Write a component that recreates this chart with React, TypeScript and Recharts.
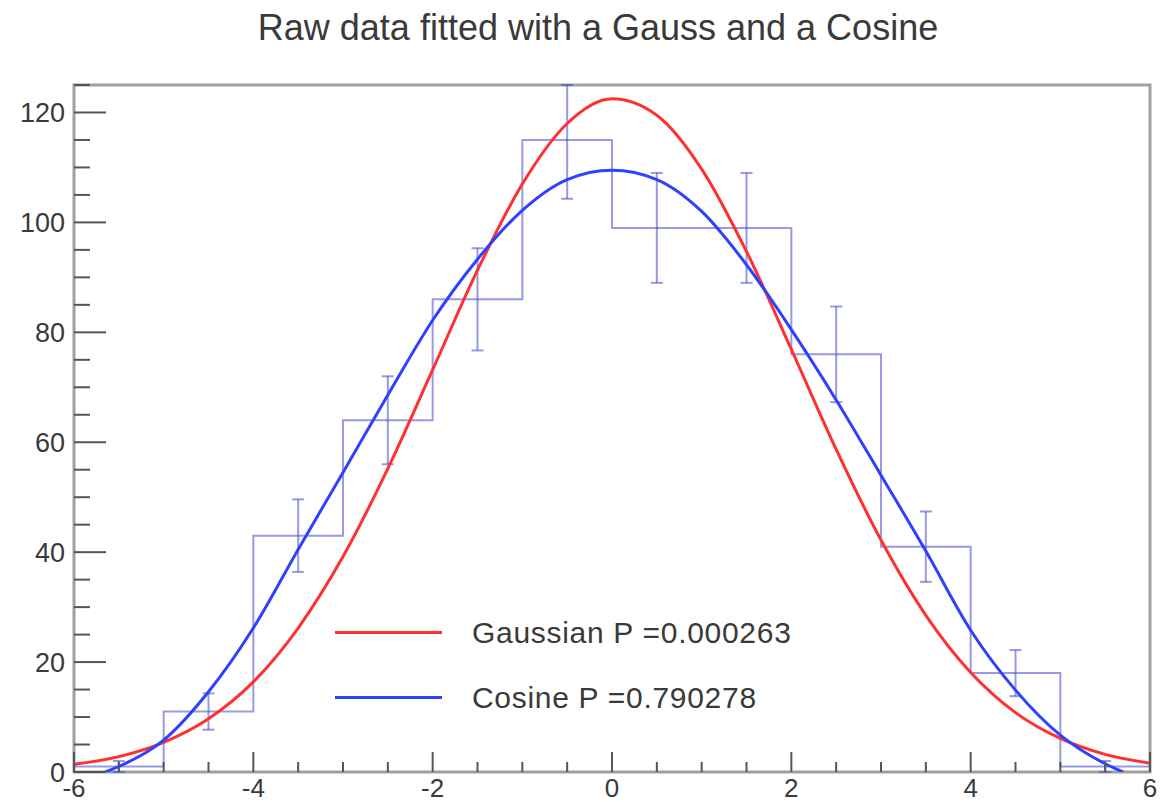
import {
  ComposedChart,
  ErrorBar,
  Legend,
  Line,
  ReferenceArea,
  Scatter,
  XAxis,
  YAxis,
} from "recharts";

// histogram: 12 bins of width 1
const binEdges = [-6, -5, -4, -3, -2, -1, 0, 1, 2, 3, 4, 5, 6];
const binCenters = [-5.5, -4.5, -3.5, -2.5, -1.5, -0.5, 0.5, 1.5, 2.5, 3.5, 4.5, 5.5];
const binCounts = [1, 11, 43, 64, 86, 115, 99, 99, 76, 41, 18, 1];
const binErrLow = [1, 3.3, 6.6, 8, 9.3, 10.7, 10, 10, 8.7, 6.4, 4.2, 1];
// upper bar of the tallest bin is cut by the frame
const binErrHigh = [1, 3.3, 6.6, 8, 9.3, 10, 10, 10, 8.7, 6.4, 4.2, 1];

// fitted curves
const gaussX = [-6, -5.5, -5, -4.5, -4, -3.5, -3, -2.5, -2, -1.5, -1, -0.5, 0, 0.5, 1, 1.5, 2, 2.5, 3, 3.5, 4, 4.5, 5, 5.5, 6];
const gaussY = [1.4, 2.8, 5.4, 9.7, 16.4, 26.2, 39.2, 55.2, 73.2, 91.3, 107.0, 118.0, 122.5, 119.5, 109.7, 94.7, 76.9, 58.7, 42.2, 28.5, 18.1, 10.8, 6.1, 3.2, 1.6];
const cosX = [-5.65, -5.5, -5, -4.5, -4, -3.5, -3, -2.5, -2, -1.5, -1, -0.5, 0, 0.5, 1, 1.5, 2, 2.5, 3, 3.5, 4, 4.5, 5, 5.5, 5.7];
const cosY = [0, 1.0, 5.8, 14.6, 26.2, 40.5, 54.5, 68.6, 82.2, 93.3, 102.2, 107.8, 109.5, 107.8, 102.0, 92.3, 80.5, 67.7, 54.0, 40.2, 25.8, 14.9, 6.7, 1.5, 0];

const xTicks = [-6, -5.5, -5, -4.5, -4, -3.5, -3, -2.5, -2, -1.5, -1, -0.5, 0, 0.5, 1, 1.5, 2, 2.5, 3, 3.5, 4, 4.5, 5, 5.5, 6];
const yTicks = [0, 5, 10, 15, 20, 25, 30, 35, 40, 45, 50, 55, 60, 65, 70, 75, 80, 85, 90, 95, 100, 105, 110, 115, 120, 125];

const TITLE = "Raw data fitted with a Gauss and a Cosine";
const GAUSS_NAME = "Gaussian P =0.000263";
const COS_NAME = "Cosine P =0.790278";
const legendOrder = [GAUSS_NAME, COS_NAME];

const FONT = '"Liberation Sans", Arial, Helvetica, sans-serif';
const HIST_COLOR = "#3f48cc";
const TICK_COLOR = "#555";
const LABEL_COLOR = "#3a3a3a";

const histData = binEdges.map((x, i) => ({ x, y: binCounts[Math.min(i, binCounts.length - 1)] }));
const errData = binCenters.map((x, i) => ({ x, y: binCounts[i], err: [binErrLow[i], binErrHigh[i]] }));
const gaussData = gaussX.map((x, i) => ({ x, y: gaussY[i] }));
const cosData = cosX.map((x, i) => ({ x, y: cosY[i] }));

const XTick = (props: any) => {
  const { x, y, payload } = props;
  const v = payload.value as number;
  const major = v % 2 === 0;
  return (
    <g>
      <line x1={x} x2={x} y1={y} y2={y - (major ? 20 : 10)} stroke={TICK_COLOR} strokeWidth={2} />
      {major && (
        <text x={x} y={y + 25} textAnchor="middle" fontFamily={FONT} fontSize={26} fill={LABEL_COLOR}>
          {v}
        </text>
      )}
    </g>
  );
};

const YTick = (props: any) => {
  const { x, y, payload } = props;
  const v = payload.value as number;
  const major = v % 20 === 0;
  return (
    <g>
      <line x1={x} x2={x + (major ? 32 : 16)} y1={y} y2={y} stroke={TICK_COLOR} strokeWidth={2} />
      {major && (
        <text x={x - 9} y={y} dy="0.36em" textAnchor="end" fontFamily={FONT} fontSize={27} fill={LABEL_COLOR}>
          {v}
        </text>
      )}
    </g>
  );
};

const LegendBox = ({ payload }: any) => {
  const items = legendOrder
    .map((name) => (payload || []).find((p: any) => p.value === name))
    .filter(Boolean);
  return (
    <div style={{ fontFamily: FONT }}>
      {items.map((p: any) => (
        <div key={p.value} style={{ display: "flex", alignItems: "center", height: 65 }}>
          <div style={{ width: 107, height: 3, background: p.color, marginRight: 30 }} />
          <span style={{ fontSize: 30, letterSpacing: 0.7, color: LABEL_COLOR, whiteSpace: "nowrap" }}>{p.value}</span>
        </div>
      ))}
    </div>
  );
};

export default function App() {
  return (
    <div style={{ position: "absolute", left: 0, top: 0, width: 1167, height: 802, background: "#fff" }}>
      <div
        style={{
          position: "absolute",
          left: 0,
          width: 1196,
          top: 7,
          textAlign: "center",
          fontFamily: FONT,
          fontSize: 36,
          lineHeight: "42px",
          color: LABEL_COLOR,
          whiteSpace: "nowrap",
        }}
      >
        {TITLE}
      </div>
      <ComposedChart width={1167} height={802} margin={{ top: 85, right: 17, bottom: 0, left: 0 }}>
        <XAxis
          dataKey="x"
          type="number"
          domain={[-6, 6]}
          ticks={xTicks}
          interval={0}
          allowDataOverflow
          height={30}
          tickSize={0}
          tickMargin={0}
          tickLine={false}
          axisLine={false}
          tick={<XTick />}
        />
        <YAxis
          type="number"
          domain={[0, 125]}
          ticks={yTicks}
          interval={0}
          allowDataOverflow
          width={74}
          tickSize={0}
          tickMargin={0}
          tickLine={false}
          axisLine={false}
          tick={<YTick />}
        />
        <ReferenceArea x1={-6} x2={6} y1={0} y2={125} fill="none" stroke="#a0a0a0" strokeWidth={3} ifOverflow="visible" />
        <Line
          data={histData}
          dataKey="y"
          type="stepAfter"
          stroke={HIST_COLOR}
          strokeOpacity={0.55}
          strokeWidth={2}
          dot={false}
          legendType="none"
          isAnimationActive={false}
        />
        <Scatter data={errData} dataKey="y" shape={() => <g />} legendType="none" isAnimationActive={false}>
          <ErrorBar dataKey="err" direction="y" width={6} stroke={HIST_COLOR} strokeOpacity={0.55} strokeWidth={2} />
        </Scatter>
        <Line
          data={gaussData}
          dataKey="y"
          name={GAUSS_NAME}
          type="monotone"
          stroke="#ff3030"
          strokeWidth={3}
          dot={false}
          isAnimationActive={false}
        />
        <Line
          data={cosData}
          dataKey="y"
          name={COS_NAME}
          type="monotone"
          stroke="#3040ff"
          strokeWidth={3}
          dot={false}
          isAnimationActive={false}
        />
        <Legend
          layout="horizontal"
          verticalAlign="middle"
          content={<LegendBox />}
          wrapperStyle={{ left: 335, top: 600, width: 560 }}
        />
      </ComposedChart>
    </div>
  );
}
